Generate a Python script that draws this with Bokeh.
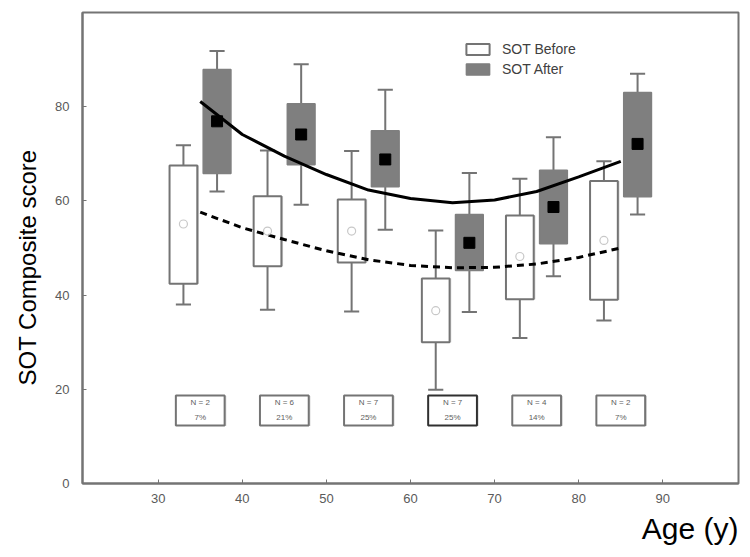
import numpy as np
from bokeh.plotting import figure
from bokeh.models import Range1d, FixedTicker, Legend, LegendItem, Title
from bokeh.core.properties import value
from bokeh.embed import file_html
from bokeh.resources import INLINE

# ---------------- data ----------------
group_age = [35, 45, 55, 65, 75, 85]
before_age = [33, 43, 53, 63, 73, 83]
after_age = [37, 47, 57, 67, 77, 87]

before_lo = [38.0, 36.9, 36.5, 19.9, 30.9, 34.6]
before_q1 = [42.4, 46.1, 46.9, 30.0, 39.1, 39.0]
before_mean = [55.1, 53.6, 53.6, 36.7, 48.2, 51.6]
before_q3 = [67.5, 61.0, 60.3, 43.5, 56.9, 64.2]
before_hi = [71.8, 70.7, 70.6, 53.7, 64.7, 68.4]

after_lo = [62.0, 59.2, 53.9, 36.4, 44.0, 57.1]
after_q1 = [65.8, 67.7, 63.0, 45.2, 50.9, 60.9]
after_mean = [76.9, 74.1, 68.8, 51.1, 58.7, 72.1]
after_q3 = [87.9, 80.6, 74.9, 57.1, 66.5, 83.0]
after_hi = [91.8, 89.0, 83.6, 65.9, 73.5, 87.0]

fit_age = [35, 40, 45, 50, 55, 60, 65, 70, 75, 80, 85]
after_fit = [81.1, 74.1, 69.5, 65.6, 62.3, 60.5, 59.6, 60.2, 62.0, 65.1, 68.4]
before_fit = [57.6, 54.3, 51.8, 49.4, 47.5, 46.3, 45.8, 45.9, 46.6, 48.0, 50.0]

n_labels = ["N = 2", "N = 6", "N = 7", "N = 7", "N = 4", "N = 2"]
pct_labels = ["7%", "21%", "25%", "25%", "14%", "7%"]

x_ticks = [30, 40, 50, 60, 70, 80, 90]
y_ticks = [0, 20, 40, 60, 80]

# ---------------- styling ----------------
FONT = "Liberation Sans"
GRAY = "#7f7f7f"
LINE = "#747474"
BOX_W = 3.3
CAP_W = 1.8
SHADOW = 0.2

p = figure(width=750, height=557, x_range=Range1d(21, 99), y_range=Range1d(0, 100),
           output_backend="svg", toolbar_location=None,
           min_border_left=82, min_border_right=12, min_border_top=12, min_border_bottom=74)
p.background_fill_color = "white"
p.border_fill_color = "white"
p.outline_line_color = LINE
p.outline_line_width = 2
p.xgrid.visible = False
p.ygrid.visible = False

for ax in (p.xaxis, p.yaxis):
    ax.axis_line_color = LINE
    ax.axis_line_width = 2
    ax.major_tick_line_color = LINE
    ax.major_tick_in = 4
    ax.major_tick_out = 0
    ax.minor_tick_line_color = None
    ax.major_label_text_font = FONT
    ax.major_label_text_font_size = "13px"
    ax.major_label_text_color = "#5a5a5a"
p.xaxis.ticker = FixedTicker(ticks=x_ticks)
p.yaxis.ticker = FixedTicker(ticks=y_ticks)
p.xaxis.major_label_standoff = 10
p.yaxis.major_label_standoff = 13

ba = np.array(before_age, dtype=float)
aa = np.array(after_age, dtype=float)
ga = np.array(group_age, dtype=float)

# whiskers
p.segment(x0=ba, x1=ba, y0=before_lo, y1=before_hi, line_color=LINE, line_width=2)
p.segment(x0=aa, x1=aa, y0=after_lo, y1=after_hi, line_color=LINE, line_width=2)
for xs, ys in ((ba, before_lo), (ba, before_hi), (aa, after_lo), (aa, after_hi)):
    p.segment(x0=xs - CAP_W / 2, x1=xs + CAP_W / 2, y0=ys, y1=ys, line_color=LINE, line_width=2)

# boxes (light shadow on right of open boxes)
p.vbar(x=ba + SHADOW, width=BOX_W, bottom=before_q1, top=before_q3,
       fill_color="#d4d4d4", line_color=None)
r_before = p.vbar(x=before_age, width=BOX_W, bottom=before_q1, top=before_q3,
                  fill_color="white", line_color=LINE, line_width=2)
r_after = p.vbar(x=after_age, width=BOX_W, bottom=after_q1, top=after_q3,
                 fill_color=GRAY, line_color=GRAY, line_width=1.5)

# fitted curves
p.line(fit_age, after_fit, line_color="black", line_width=3)
p.line(fit_age, before_fit, line_color="black", line_width=3, line_dash="7 5")

# means
p.scatter(before_age, before_mean, marker="circle", size=8, fill_color=None,
          line_color="#c8c8c8", line_width=1.2)
p.scatter(after_age, after_mean, marker="square", size=11, fill_color="black", line_color="black")

# N boxes
box_line = [LINE, LINE, LINE, "#303030", LINE, LINE]
p.rect(x=ga + SHADOW, y=15.4, width=5.8, height=6.4, fill_color="#d4d4d4", line_color=None)
p.rect(x=group_age, y=15.5, width=5.8, height=6.4, fill_color="white",
       line_color=box_line, line_width=2)
p.text(x=group_age, y=[17.1] * 6, text=n_labels, text_font=value(FONT), text_font_size="8px",
       text_align="center", text_baseline="middle", text_color="#606060")
p.text(x=group_age, y=[14.0] * 6, text=pct_labels, text_font=value(FONT), text_font_size="8px",
       text_align="center", text_baseline="middle", text_color="#606060")

# legend
legend = Legend(items=[LegendItem(label="SOT Before", renderers=[r_before]),
                       LegendItem(label="SOT After", renderers=[r_after])],
                location=(381, 404), padding=0, margin=0, spacing=0,
                glyph_width=29, glyph_height=14, label_standoff=10, label_height=20,
                label_text_font=FONT, label_text_font_size="14px", label_text_color="#404040",
                border_line_color=None, background_fill_alpha=0)
p.add_layout(legend)

# axis titles
p.add_layout(Title(text="Age (y)", align="right", text_font=FONT, text_font_size="30px",
                   text_font_style="normal", text_color="black", standoff=8), "below")
p.add_layout(Title(text="SOT Composite score", align="left", text_font=FONT,
                   text_font_size="24px", text_font_style="normal", text_color="black",
                   standoff=23, offset=98), "left")

open("out.html", "w").write(file_html(p, INLINE))
